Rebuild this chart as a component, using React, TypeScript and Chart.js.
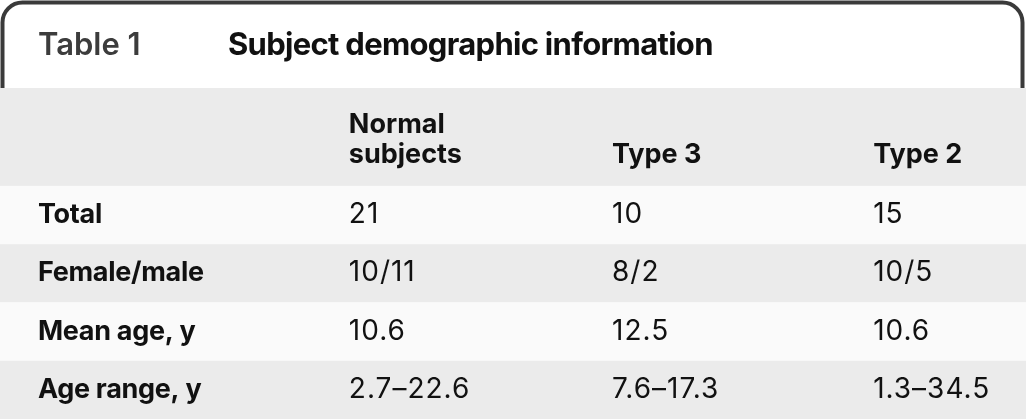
import React, { useEffect, useRef } from "react";
import { Chart, registerables } from "chart.js";

Chart.register(...registerables);

// ---- Data ----
const tableNumber = "Table 1";
const tableTitle = "Subject demographic information";
const columnHeaders: string[][] = [["Normal", "subjects"], ["Type 3"], ["Type 2"]];
const rowLabels = ["Total", "Female/male", "Mean age, y", "Age range, y"];
const normalSubjects = ["21", "10/11", "10.6", "2.7–22.6"];
const type3 = ["10", "8/2", "12.5", "7.6–17.3"];
const type2 = ["15", "10/5", "10.6", "1.3–34.5"];

const FONT = 'Inter, "Noto Sans", "DejaVu Sans", sans-serif';
const HEADER_UNITS = 1.68; // header row height in row units
const COL_X = [0.037, 0.34, 0.5965, 0.851]; // column left edges as fraction of width
const GRAY = "#ebebeb";
const WHITE = "#fafafa";

const tablePlugin = {
  id: "tablePlugin",
  beforeDraw(chart: any) {
    const { ctx, width, height, chartArea, scales } = chart;
    const xs = scales.x;
    const ys = scales.y;
    ctx.save();
    ctx.fillStyle = "#ffffff";
    ctx.fillRect(0, 0, width, height);

    // header tab border
    ctx.strokeStyle = "#3a3a3a";
    ctx.lineWidth = 4;
    const top = 2.5;
    const left = 2.5;
    const right = width - 3.5;
    const bottom = chartArea.top + 1;
    const r = 20;
    ctx.beginPath();
    ctx.moveTo(left, bottom);
    ctx.lineTo(left, top + r);
    ctx.arcTo(left, top, left + r, top, r);
    ctx.lineTo(right - r, top);
    ctx.arcTo(right, top, right, top + r, r);
    ctx.lineTo(right, bottom);
    ctx.stroke();

    // title
    ctx.textBaseline = "alphabetic";
    ctx.textAlign = "left";
    ctx.fillStyle = "#3c3c3c";
    ctx.font = `600 31px ${FONT}`;
    ctx.letterSpacing = "0px";
    ctx.fillText(tableNumber, 38, 55);
    ctx.fillStyle = "#111111";
    ctx.font = `700 31px ${FONT}`;
    ctx.letterSpacing = "-0.7px";
    ctx.fillText(tableTitle, 228, 55);
    ctx.letterSpacing = "0px";

    const x0 = xs.getPixelForValue(0);
    const x1 = xs.getPixelForValue(1);

    // header row band
    const hTop = ys.getPixelForValue(0);
    const hBot = ys.getPixelForValue(HEADER_UNITS);
    ctx.fillStyle = GRAY;
    ctx.fillRect(x0, hTop, x1 - x0, hBot - hTop);

    // header texts (bottom aligned)
    ctx.fillStyle = "#111111";
    ctx.font = `700 27px ${FONT}`;
    columnHeaders.forEach((lines, ci) => {
      const cx = xs.getPixelForValue(COL_X[ci + 1]);
      lines.forEach((ln, li) => {
        const fromBottom = lines.length - 1 - li;
        ctx.fillText(ln, cx, hBot - 23 - fromBottom * 30);
      });
    });

    // data rows
    const cols = [normalSubjects, type3, type2];
    rowLabels.forEach((label, ri) => {
      const rTop = ys.getPixelForValue(HEADER_UNITS + ri);
      const rBot = ys.getPixelForValue(HEADER_UNITS + ri + 1);
      ctx.fillStyle = ri % 2 === 0 ? WHITE : GRAY;
      ctx.fillRect(x0, rTop, x1 - x0, rBot - rTop);
      const base = (rTop + rBot) / 2 + 8;
      ctx.fillStyle = "#111111";
      ctx.font = `700 27px ${FONT}`;
      ctx.letterSpacing = "-0.3px";
      ctx.fillText(label, xs.getPixelForValue(COL_X[0]), base);
      ctx.font = `400 28px ${FONT}`;
      ctx.letterSpacing = "1px";
      cols.forEach((col, ci) => {
        ctx.fillText(col[ri], xs.getPixelForValue(COL_X[ci + 1]), base);
      });
      ctx.letterSpacing = "0px";
    });
    ctx.restore();
  },
};

export default function App() {
  const ref = useRef<HTMLCanvasElement | null>(null);
  useEffect(() => {
    if (!ref.current) return;
    const chart = new Chart(ref.current, {
      type: "scatter",
      data: { datasets: [] },
      options: {
        animation: false,
        responsive: false,
        maintainAspectRatio: false,
        layout: { padding: { top: 88, left: 0, right: 0, bottom: 0 } },
        plugins: { legend: { display: false }, tooltip: { enabled: false }, title: { display: false } },
        scales: {
          x: { type: "linear", min: 0, max: 1, display: false },
          y: { type: "linear", min: 0, max: HEADER_UNITS + rowLabels.length, reverse: true, display: false },
        },
      },
      plugins: [tablePlugin],
    });
    return () => chart.destroy();
  }, []);
  return (
    <div style={{ position: "absolute", left: 0, top: 0, width: 1026, height: 419 }}>
      <canvas ref={ref} width={1026} height={419} style={{ display: "block", width: 1026, height: 419 }} />
    </div>
  );
}
